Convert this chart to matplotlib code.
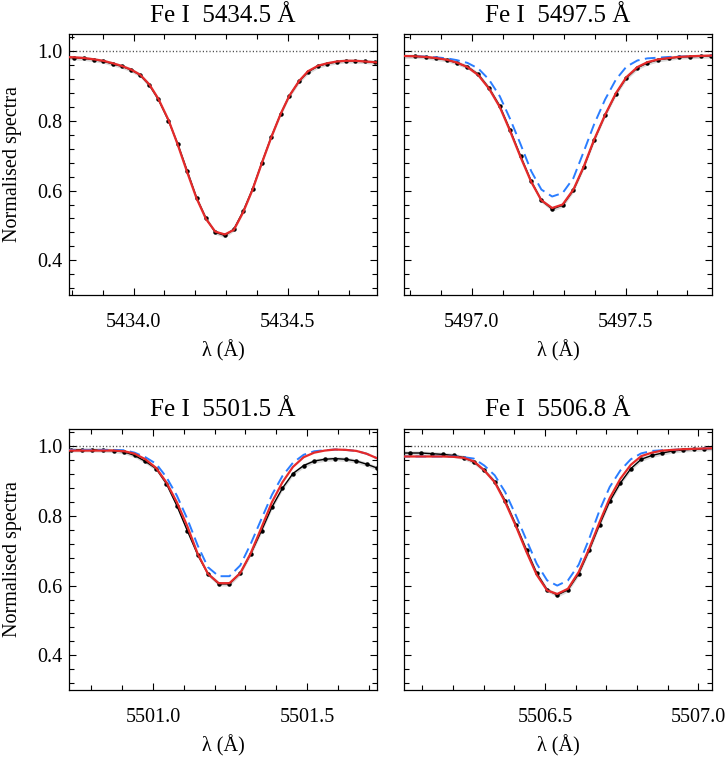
import numpy as np
import matplotlib
matplotlib.use("Agg")
import matplotlib.pyplot as plt
from matplotlib.ticker import MultipleLocator

plt.rcParams['font.family'] = ['Liberation Serif', 'DejaVu Serif']
plt.rcParams['mathtext.fontset'] = 'stix'

titles = ["Fe I  5434.5 Å", "Fe I  5497.5 Å", "Fe I  5501.5 Å", "Fe I  5506.8 Å"]
xlims = [(5433.79, 5434.79), (5496.78, 5497.78), (5500.727, 5501.727), (5506.04, 5507.045)]
xticks = [[5434.0, 5434.5], [5497.0, 5497.5], [5501.0, 5501.5], [5506.5, 5507.0]]

# ---------------- Panel 1 : Fe I 5434.5 ----------------
wl1 = [5433.775, 5433.805, 5433.839, 5433.872, 5433.901, 5433.932, 5433.962, 5433.991,
       5434.021, 5434.051, 5434.080, 5434.113, 5434.143, 5434.174, 5434.204, 5434.235,
       5434.265, 5434.296, 5434.325, 5434.355, 5434.386, 5434.416, 5434.447, 5434.477,
       5434.505, 5434.537, 5434.566, 5434.599, 5434.629, 5434.660, 5434.690, 5434.720,
       5434.751, 5434.782, 5434.810]
obs1 = [0.983, 0.982, 0.980, 0.976, 0.972, 0.964, 0.957, 0.947,
        0.932, 0.903, 0.862, 0.801, 0.734, 0.656, 0.580, 0.520,
        0.480, 0.471, 0.489, 0.540, 0.605, 0.680, 0.755, 0.820,
        0.872, 0.914, 0.941, 0.958, 0.965, 0.970, 0.973, 0.972,
        0.971, 0.969, 0.967]
red1 = [0.984, 0.983, 0.981, 0.977, 0.973, 0.966, 0.958, 0.948,
        0.933, 0.905, 0.864, 0.803, 0.732, 0.652, 0.578, 0.518,
        0.482, 0.474, 0.487, 0.537, 0.603, 0.679, 0.754, 0.820,
        0.872, 0.915, 0.943, 0.959, 0.966, 0.971, 0.973, 0.973,
        0.971, 0.969, 0.967]

# ---------------- Panel 2 : Fe I 5497.5 ----------------
wl2 = [5496.770, 5496.816, 5496.850, 5496.884, 5496.919, 5496.951, 5496.986, 5497.021,
       5497.056, 5497.091, 5497.124, 5497.159, 5497.193, 5497.226, 5497.261, 5497.295,
       5497.330, 5497.364, 5497.397, 5497.433, 5497.468, 5497.502, 5497.538, 5497.570,
       5497.605, 5497.639, 5497.673, 5497.709, 5497.744, 5497.776, 5497.800]
obs2 = [0.986, 0.986, 0.984, 0.980, 0.976, 0.967, 0.956, 0.934,
        0.895, 0.843, 0.775, 0.698, 0.627, 0.572, 0.547, 0.558,
        0.601, 0.668, 0.744, 0.817, 0.878, 0.924, 0.953, 0.967,
        0.976, 0.980, 0.984, 0.985, 0.986, 0.987, 0.987]
red2 = [0.987, 0.986, 0.984, 0.981, 0.976, 0.968, 0.955, 0.932,
        0.893, 0.840, 0.772, 0.695, 0.625, 0.572, 0.550, 0.560,
        0.603, 0.670, 0.746, 0.818, 0.880, 0.926, 0.955, 0.969,
        0.977, 0.981, 0.984, 0.986, 0.987, 0.988, 0.988]
blue2 = [0.987, 0.986, 0.985, 0.983, 0.980, 0.975, 0.967, 0.951,
         0.919, 0.871, 0.807, 0.732, 0.656, 0.603, 0.583, 0.593,
         0.636, 0.713, 0.790, 0.862, 0.919, 0.956, 0.974, 0.980,
         0.982, 0.984, 0.985, 0.986, 0.987, 0.988, 0.988]

# ---------------- Panel 3 : Fe I 5501.5 ----------------
wl3 = [5500.715, 5500.734, 5500.768, 5500.803, 5500.838, 5500.872, 5500.907, 5500.940,
       5500.975, 5501.010, 5501.043, 5501.077, 5501.111, 5501.145, 5501.178, 5501.213,
       5501.248, 5501.283, 5501.317, 5501.352, 5501.386, 5501.420, 5501.454, 5501.489,
       5501.523, 5501.557, 5501.591, 5501.625, 5501.660, 5501.693, 5501.727, 5501.745]
obs3 = [0.990, 0.990, 0.990, 0.990, 0.989, 0.988, 0.984, 0.974,
        0.957, 0.936, 0.893, 0.830, 0.758, 0.688, 0.634, 0.605,
        0.605, 0.636, 0.691, 0.758, 0.826, 0.880, 0.922, 0.945,
        0.958, 0.963, 0.965, 0.963, 0.958, 0.949, 0.938, 0.932]
red3 = [0.988, 0.988, 0.988, 0.988, 0.988, 0.988, 0.986, 0.979,
        0.963, 0.938, 0.897, 0.840, 0.771, 0.691, 0.634, 0.607,
        0.607, 0.636, 0.693, 0.767, 0.840, 0.897, 0.941, 0.969,
        0.982, 0.988, 0.991, 0.990, 0.987, 0.979, 0.966, 0.960]
blue3 = [0.990, 0.990, 0.990, 0.990, 0.990, 0.990, 0.989, 0.982,
         0.969, 0.950, 0.912, 0.859, 0.792, 0.715, 0.653, 0.627,
         0.627, 0.658, 0.720, 0.792, 0.861, 0.915, 0.953, 0.976,
         0.986, 0.989, 0.991, 0.990, 0.987, 0.979, 0.966, 0.960]

# ---------------- Panel 4 : Fe I 5506.8 ----------------
wl4 = [5506.025, 5506.061, 5506.096, 5506.132, 5506.167, 5506.202, 5506.235, 5506.268,
       5506.302, 5506.336, 5506.370, 5506.405, 5506.440, 5506.473, 5506.507, 5506.540,
       5506.575, 5506.610, 5506.644, 5506.678, 5506.711, 5506.746, 5506.780, 5506.814,
       5506.849, 5506.883, 5506.917, 5506.952, 5506.987, 5507.020, 5507.055]
obs4 = [0.981, 0.981, 0.981, 0.979, 0.977, 0.974, 0.968, 0.955,
        0.931, 0.899, 0.844, 0.775, 0.702, 0.636, 0.588, 0.573,
        0.588, 0.634, 0.701, 0.775, 0.842, 0.895, 0.936, 0.963,
        0.974, 0.981, 0.987, 0.990, 0.992, 0.993, 0.994]
red4 = [0.971, 0.971, 0.971, 0.971, 0.971, 0.970, 0.967, 0.957,
        0.931, 0.897, 0.840, 0.771, 0.696, 0.631, 0.586, 0.576,
        0.591, 0.639, 0.706, 0.782, 0.851, 0.907, 0.947, 0.972,
        0.982, 0.988, 0.990, 0.992, 0.993, 0.994, 0.995]
blue4 = [0.971, 0.971, 0.971, 0.971, 0.971, 0.971, 0.969, 0.965,
         0.945, 0.917, 0.869, 0.802, 0.730, 0.663, 0.615, 0.600,
         0.615, 0.660, 0.734, 0.816, 0.883, 0.931, 0.963, 0.980,
         0.987, 0.989, 0.990, 0.992, 0.993, 0.994, 0.995]

obs_err = 0.006

panels = [
    (wl1, obs1, red1, None),
    (wl2, obs2, red2, blue2),
    (wl3, obs3, red3, blue3),
    (wl4, obs4, red4, blue4),
]

W, H = 727, 757
fig = plt.figure(figsize=(W / 100, H / 100), dpi=100)

lefts = [69, 404, 69, 404]
tops = [34, 34, 429, 429]
aw, ah = 308, 261

RED = '#e52a2a'
BLUE = '#2a7dff'

for i, (wl, obs, red, blue) in enumerate(panels):
    ax = fig.add_axes([lefts[i] / W, 1 - (tops[i] + ah) / H, aw / W, ah / H])
    wl = np.array(wl)
    obs = np.array(obs)
    ax.axhline(1.0, color='#444444', lw=1.0, ls=(0, (0.8, 1.6)), zorder=1)
    ax.fill_between(wl, obs - obs_err, obs + obs_err, color='#d8d8d8', lw=0, zorder=2)
    ax.plot(wl, obs, color='black', lw=1.0, marker='o', ms=2.2, zorder=3)
    if blue is not None:
        ax.plot(wl, blue, color=BLUE, lw=1.4, ls=(0, (5.5, 2.8)), zorder=4,
                solid_joinstyle='round', dash_joinstyle='round')
    ax.plot(wl, red, color=RED, lw=1.6, zorder=5, solid_joinstyle='round')

    ax.set_xlim(*xlims[i])
    ax.set_ylim(0.3, 1.05)
    ax.set_xticks(xticks[i])
    ax.set_xticklabels([f"{t:.1f}" for t in xticks[i]])
    ax.xaxis.set_minor_locator(MultipleLocator(0.1))
    ax.set_yticks([0.4, 0.6, 0.8, 1.0])
    ax.yaxis.set_minor_locator(MultipleLocator(0.04))
    ax.tick_params(which='both', direction='in', top=True, right=True, labelsize=14.5)
    ax.tick_params(which='major', length=5, width=0.8)
    ax.tick_params(which='minor', length=3.5, width=0.8)
    ax.tick_params(axis='x', which='major', pad=13)
    ax.tick_params(axis='y', which='major', pad=5)
    for sp in ax.spines.values():
        sp.set_linewidth(0.9)
    if i % 2 == 0:
        ax.set_ylabel("Normalised spectra", fontsize=14.5, labelpad=11)
        ax.set_yticklabels(["0.4", "0.6", "0.8", "1.0"])
    else:
        ax.set_yticklabels([])
    ax.set_xlabel("λ (Å)", fontsize=14.5, labelpad=6)
    ax.set_title(titles[i], fontsize=18, pad=9)

fig.savefig("out.png", dpi=100)
